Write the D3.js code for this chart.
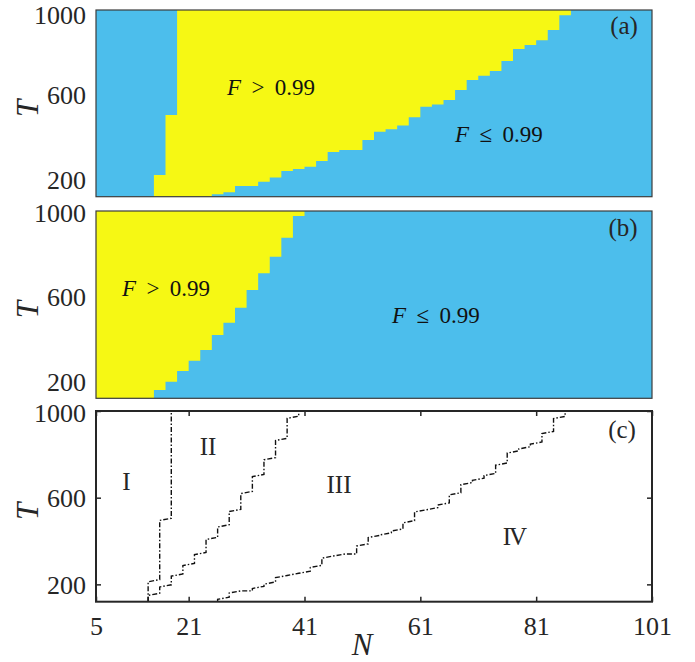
<!DOCTYPE html>
<html>
<head>
<meta charset="utf-8">
<title>Fidelity phase diagram</title>
<script src="https://d3js.org/d3.v7.min.js"></script>
<style>
  body { margin: 0; background: #fff; }
</style>
</head>
<body>
<svg width="695" height="662"></svg>
<script>
// ---- data ----
// columns are 2 wide in N, given by their left edge
// panel (a): yellow (F > 0.99) from aLow up to 1000, except the capped columns
const aN = [15, 17, 19, 21, 23, 25, 27, 29, 31, 33, 35, 37, 39, 41, 43, 45, 47, 49, 51, 53,
            55, 57, 59, 61, 63, 65, 67, 69, 71, 73, 75, 77, 79, 81, 83, 85]
const aLow = [120, 120, 120, 120, 120, 131, 141, 170, 170, 191, 211, 241, 251, 261, 288, 331, 340, 340, 387, 426,
              438, 456, 494, 544, 554, 576, 623, 670, 690, 712, 760, 816, 835, 857, 906, 975]
const aCapN = [15, 17]
const aCapT = [222, 505]

// panel (b): yellow from bLow up to 1000
const bN = [5, 7, 9, 11, 13, 15, 17, 19, 21, 23, 25, 27, 29, 31, 33, 35, 37, 39]
const bLow = [120, 120, 120, 120, 120, 159, 198, 248, 297, 347, 417, 475, 546, 629, 707, 785, 874, 976]

const xTicks = [5, 21, 41, 61, 81, 101]
const yTicks = [200, 600, 1000]

const blue = "#4cbeec"
const yellow = "#f6f814"
const serif = "'Liberation Serif', 'Times New Roman', serif"

const svg = d3.select("svg").style("font-family", serif)
const x = d3.scaleLinear().domain([5, 101]).range([96, 652])
const tRange = [120, 1000]

const panels = [
  { id: "a", top: 10, bottom: 196.7 },
  { id: "b", top: 211, bottom: 398.3 },
  { id: "c", top: 411, bottom: 601.7 }
]
panels.forEach(p => { p.y = d3.scaleLinear().domain(tRange).range([p.bottom, p.top]) })

// the two maps: blue background, yellow region as one stepped area
function drawMap(p, cols, low, capN, capT) {
  const g = svg.append("g")
  g.append("rect")
    .attr("x", x(5)).attr("y", p.top)
    .attr("width", x(101) - x(5)).attr("height", p.bottom - p.top)
    .attr("fill", blue)
  const cells = cols.map((n, i) => {
    const k = capN.indexOf(n)
    return { n: n, lo: low[i], hi: k >= 0 ? capT[k] : 1000 }
  })
  const last = cells[cells.length - 1]
  cells.push({ n: last.n + 2, lo: last.lo, hi: last.hi })
  const area = d3.area()
    .x(d => x(d.n))
    .y0(d => p.y(d.lo))
    .y1(d => p.y(d.hi))
    .curve(d3.curveStepAfter)
  g.append("path").attr("d", area(cells)).attr("fill", yellow)
  g.append("rect")
    .attr("x", x(5)).attr("y", p.top)
    .attr("width", x(101) - x(5)).attr("height", p.bottom - p.top)
    .attr("fill", "none").attr("stroke", "#3c3c3c").attr("stroke-width", 1.2)
}

drawMap(panels[0], aN, aLow, aCapN, aCapT)
drawMap(panels[1], bN, bLow, [], [])

function styleAxis(ax) {
  ax.attr("font-family", null)
  ax.select(".domain").remove()
  ax.selectAll("text").style("font-size", "26px").style("font-family", serif).attr("fill", "#262626")
  ax.selectAll("line").attr("stroke", "#262626").attr("stroke-width", 1.5)
}

// y axes for every panel
panels.forEach(p => {
  const inner = p.id === "c" ? -5 : 0
  const ax = svg.append("g")
    .attr("transform", `translate(${x(5)},0)`)
    .call(d3.axisLeft(p.y).tickValues(yTicks).tickSize(inner).tickPadding(10).tickFormat(d3.format("d")))
  styleAxis(ax)
  ax.selectAll("text").attr("dy", d => d === 1000 ? (p.id === "a" ? "0.52em" : "0.42em") : "0.35em")

  svg.append("text")
    .attr("transform", `translate(38,${(p.top + p.bottom) / 2 + 5}) rotate(-90)`)
    .attr("text-anchor", "middle")
    .attr("fill", "#262626")
    .style("font-size", "31px").style("font-style", "italic")
    .text("T")
})

// panel (c): boundaries
const pc = panels[2]
function stairs(cols, ts, startN, endN) {
  const pts = [[startN, 120]]
  cols.forEach((c, i) => {
    const t = ts[i]
    const last = pts[pts.length - 1]
    if (last[1] < t - 10) pts.push([last[0], t - 10])
    pts.push([c + 1, t])
  })
  pts.push([endN, 1000])
  return pts
}
const lineI = stairs(aCapN, aCapT, 14, 18)
const lineII = stairs(bN.filter((n, i) => bLow[i] > 120), bLow.filter(t => t > 120), 14, 40)
const lineIII = stairs(aN.filter((n, i) => aLow[i] > 120), aLow.filter(t => t > 120), 26, 86)

svg.append("clipPath").attr("id", "clipc")
  .append("rect").attr("x", x(5)).attr("y", pc.top)
  .attr("width", x(101) - x(5)).attr("height", pc.bottom - pc.top)

const line = d3.line().x(d => x(d[0])).y(d => pc.y(d[1]))
svg.append("g").attr("clip-path", "url(#clipc)")
  .selectAll("path")
  .data([lineI, lineII, lineIII])
  .enter().append("path")
  .attr("d", line)
  .attr("fill", "none")
  .attr("stroke", "#111")
  .attr("stroke-width", 1.4)
  .attr("stroke-dasharray", "5,2,1.5,2")

// x axes of (c): bottom with labels, top and right with inner ticks
const xb = svg.append("g").attr("transform", `translate(0,${pc.bottom})`)
  .call(d3.axisBottom(x).tickValues(xTicks).tickSize(-5).tickPadding(15))
styleAxis(xb)

const xt = svg.append("g").attr("transform", `translate(0,${pc.top})`)
  .call(d3.axisTop(x).tickValues(xTicks).tickSize(-5).tickFormat(""))
styleAxis(xt)

const yr = svg.append("g").attr("transform", `translate(${x(101)},0)`)
  .call(d3.axisRight(pc.y).tickValues(yTicks).tickSize(-5).tickFormat(""))
styleAxis(yr)

svg.append("rect")
  .attr("x", x(5)).attr("y", pc.top)
  .attr("width", x(101) - x(5)).attr("height", pc.bottom - pc.top)
  .attr("fill", "none").attr("stroke", "#262626").attr("stroke-width", 2)

svg.append("text")
  .attr("x", 362).attr("y", 655)
  .attr("text-anchor", "middle")
  .attr("fill", "#262626")
  .style("font-size", "31px").style("font-style", "italic")
  .text("N")

// labels inside panels
const labels = [
  { t: "(a)", x: 624, y: 34, s: 25 },
  { t: "(b)", x: 623, y: 236, s: 25 },
  { t: "(c)", x: 622, y: 438, s: 25 },
  { t: "I", x: 126.5, y: 490, s: 25 },
  { t: "II", x: 208, y: 455, s: 25 },
  { t: "III", x: 339, y: 493, s: 25 },
  { t: "IV", x: 514, y: 545, s: 25 }
]
svg.selectAll("text.lab")
  .data(labels)
  .enter().append("text")
  .attr("class", "lab")
  .attr("x", d => d.x).attr("y", d => d.y)
  .attr("text-anchor", "middle")
  .attr("fill", "#262626")
  .style("font-size", d => d.s + "px")
  .style("letter-spacing", d => d.t === "IV" ? "-2px" : null)
  .text(d => d.t)

const fLabels = [
  { rel: "\u2009 > \u20090.99", x: 227, y: 95 },
  { rel: "\u2009 \u2264 \u20090.99", x: 455, y: 142 },
  { rel: "\u2009 > \u20090.99", x: 122, y: 296 },
  { rel: "\u2009 \u2264 \u20090.99", x: 392, y: 323 }
]
fLabels.forEach(d => {
  const t = svg.append("text").attr("x", d.x).attr("y", d.y)
    .attr("fill", "#111").style("font-size", "23px")
  t.append("tspan").style("font-style", "italic").text("F")
  t.append("tspan").text(d.rel)
})
</script>
</body>
</html>
